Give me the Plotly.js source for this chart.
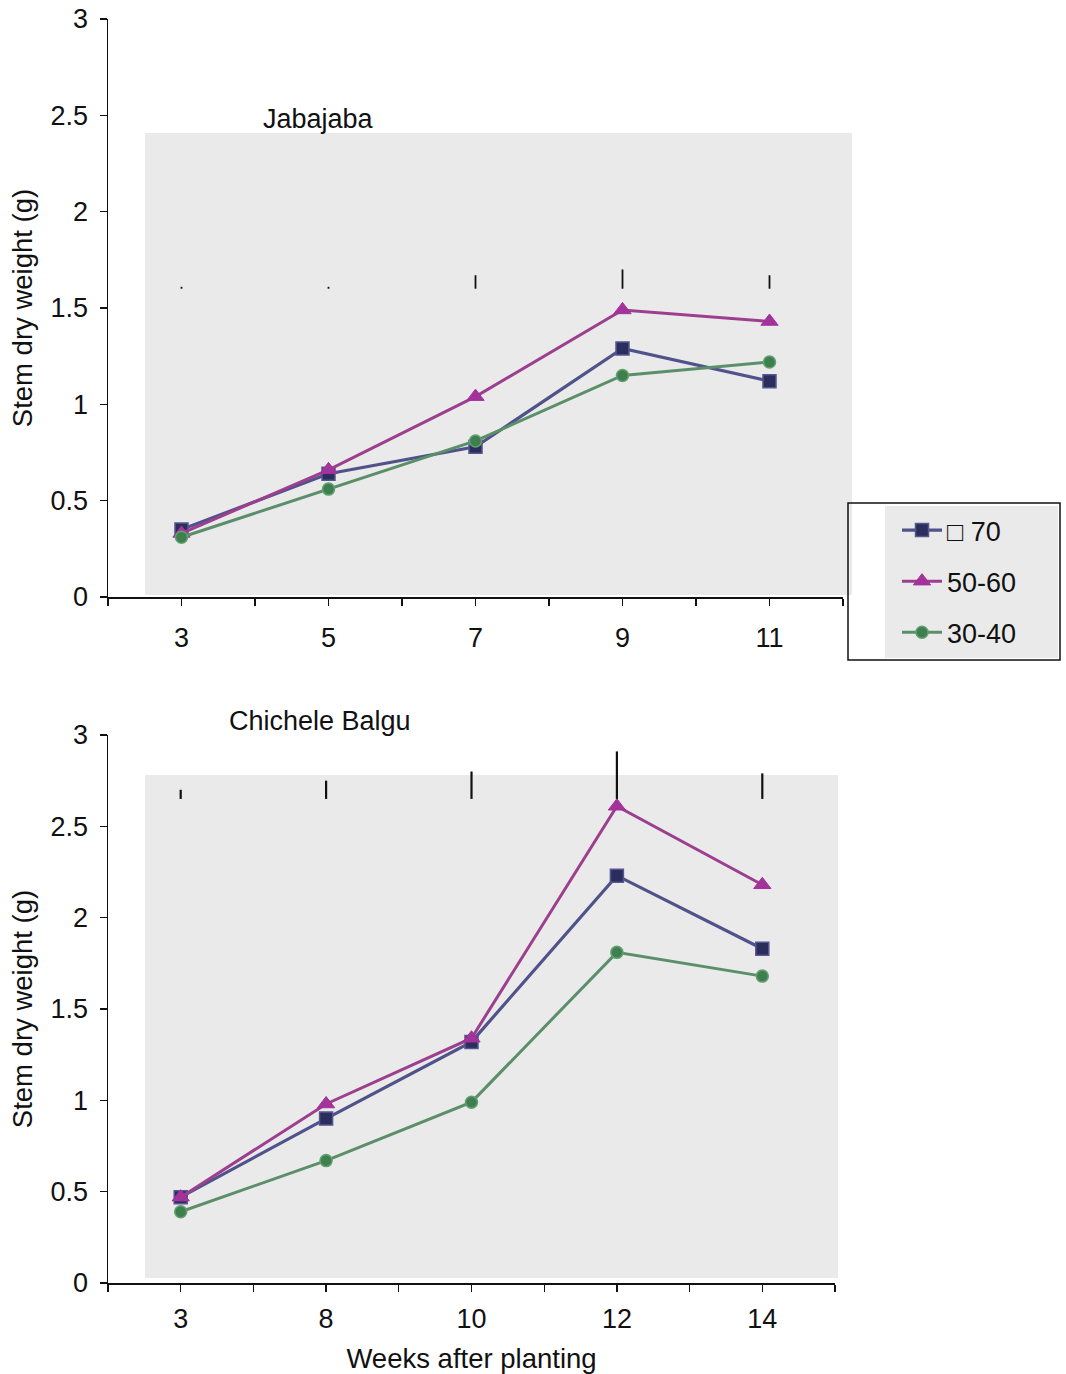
<!DOCTYPE html>
<html>
<head>
<meta charset="utf-8">
<script src="https://cdn.plot.ly/plotly-3.0.1.min.js"></script>
<style>html,body{margin:0;padding:0;background:#fff;}#chart{width:1066px;height:1374px;}</style>
</head>
<body>
<div id="chart"></div>
<script>
// ---- Data ----
const weeksJabajaba = ['3', '5', '7', '9', '11'];
const weeksChichele = ['3', '8', '10', '12', '14'];
const seriesNames = ['\u25A1 70', '50-60', '30-40'];

const jabajaba70 = [0.35, 0.64, 0.78, 1.29, 1.12];
const jabajaba5060 = [0.33, 0.66, 1.04, 1.49, 1.43];
const jabajaba3040 = [0.31, 0.56, 0.81, 1.15, 1.22];

const chichele70 = [0.47, 0.90, 1.32, 2.23, 1.83];
const chichele5060 = [0.47, 0.98, 1.34, 2.61, 2.18];
const chichele3040 = [0.39, 0.67, 0.99, 1.81, 1.68];

// LSD-style bars drawn upward from a base level
const jabajabaBarBase = [1.60, 1.60, 1.60, 1.60, 1.60];
const jabajabaBarLen = [0.01, 0.01, 0.07, 0.10, 0.07];
const chicheleBarBase = [2.65, 2.65, 2.65, 2.65, 2.65];
const chicheleBarLen = [0.05, 0.10, 0.15, 0.26, 0.14];

// ---- Styles ----
const styles = [
  {line: {color: '#50528a', width: 3.2}, marker: {symbol: 'square', size: 13, color: '#2b2d5c', line: {color: '#55578f', width: 1.5}}},
  {line: {color: '#9c3f8e', width: 3}, marker: {symbol: 'triangle-up', size: 15, color: '#a3329b', line: {color: '#a3329b', width: 1}}},
  {line: {color: '#5b8f69', width: 3}, marker: {symbol: 'circle', size: 12, color: '#3f7e4e', line: {color: '#62a070', width: 1.5}}}
];

const idxJ = weeksJabajaba.map((_, i) => i);
const idxC = weeksChichele.map((_, i) => i);

const traces = [];
[jabajaba70, jabajaba5060, jabajaba3040].forEach((vals, k) => {
  traces.push({x: idxJ, y: vals, xaxis: 'x', yaxis: 'y', type: 'scatter', mode: 'lines+markers',
    name: seriesNames[k], legendgroup: 'g' + k, line: styles[k].line, marker: styles[k].marker, showlegend: true});
});
[chichele70, chichele5060, chichele3040].forEach((vals, k) => {
  traces.push({x: idxC, y: vals, xaxis: 'x2', yaxis: 'y2', type: 'scatter', mode: 'lines+markers',
    name: seriesNames[k], legendgroup: 'g' + k, line: styles[k].line, marker: styles[k].marker, showlegend: false});
});
traces.push({x: idxJ, y: jabajabaBarBase, xaxis: 'x', yaxis: 'y', type: 'scatter', mode: 'markers',
  marker: {size: 1, color: 'rgba(0,0,0,0)'}, showlegend: false, hoverinfo: 'skip',
  error_y: {type: 'data', symmetric: false, array: jabajabaBarLen, arrayminus: jabajabaBarLen.map(() => 0), width: 0, thickness: 1.8, color: '#111'}});
traces.push({x: idxC, y: chicheleBarBase, xaxis: 'x2', yaxis: 'y2', type: 'scatter', mode: 'markers',
  marker: {size: 1, color: 'rgba(0,0,0,0)'}, showlegend: false, hoverinfo: 'skip',
  error_y: {type: 'data', symmetric: false, array: chicheleBarLen, arrayminus: chicheleBarLen.map(() => 0), width: 0, thickness: 2.2, color: '#111'}});

const FONT = 'Liberation Sans, Arial, sans-serif';
const FS = 27;
const W = 1066, H = 1374;
const px = v => v / W;
const py = v => 1 - v / H;

function xAxis(domain, weeks, anchor, standoff) {
  return {
    domain: domain, anchor: anchor, range: [-0.5, weeks.length - 0.5],
    tickvals: weeks.map((_, i) => i), ticktext: weeks,
    ticks: 'outside', ticklen: 7, tickwidth: 1.3, tickcolor: '#111',
    minor: {dtick: 0.5, tick0: -0.5, ticks: 'outside', ticklen: 7, tickwidth: 1.3, tickcolor: '#111'},
    showline: true, linecolor: '#111', linewidth: 1.5, showgrid: false, zeroline: false,
    tickfont: {family: FONT, size: FS, color: '#111'}, ticklabelstandoff: standoff,
    automargin: false, fixedrange: true
  };
}
function yAxis(domain, anchor) {
  return {
    domain: domain, anchor: anchor, range: [0, 3], dtick: 0.5, tick0: 0,
    ticks: 'outside', ticklen: 7, tickwidth: 1.3, tickcolor: '#111',
    showline: true, linecolor: '#111', linewidth: 1.5, showgrid: false, zeroline: false,
    tickfont: {family: FONT, size: FS, color: '#111'}, ticklabelstandoff: 6,
    title: {text: 'Stem dry weight (g)', font: {family: FONT, size: 27.5, color: '#111'}, standoff: 10},
    automargin: false, fixedrange: true
  };
}

const layout = {
  width: W, height: H,
  margin: {l: 0, r: 0, t: 0, b: 0},
  paper_bgcolor: '#ffffff', plot_bgcolor: 'rgba(0,0,0,0)',
  showlegend: true,
  xaxis: xAxis([px(108), px(843)], weeksJabajaba, 'y', 9),
  yaxis: yAxis([py(597), py(19)], 'x'),
  xaxis2: Object.assign(xAxis([px(108), px(835)], weeksChichele, 'y2', 4),
    {title: {text: 'Weeks after planting', font: {family: FONT, size: 27.5, color: '#111'}, standoff: 16}}),
  yaxis2: yAxis([py(1283), py(735)], 'x2'),
  legend: {
    x: px(897), y: py(506), xanchor: 'left', yanchor: 'top',
    bgcolor: 'rgba(0,0,0,0)', borderwidth: 0,
    font: {family: FONT, size: FS, color: '#111'},
    tracegroupgap: 13, itemwidth: 40
  },
  shapes: [
    {type: 'rect', xref: 'paper', yref: 'paper', x0: px(145), x1: px(852), y0: py(595), y1: py(133),
      fillcolor: '#eaeaea', line: {width: 0}, layer: 'below'},
    {type: 'rect', xref: 'paper', yref: 'paper', x0: px(145), x1: px(838), y0: py(1278), y1: py(775),
      fillcolor: '#eaeaea', line: {width: 0}, layer: 'below'},
    {type: 'rect', xref: 'paper', yref: 'paper', x0: px(885), x1: px(1058), y0: py(658), y1: py(506),
      fillcolor: '#eaeaea', line: {width: 0}, layer: 'below'},
    {type: 'rect', xref: 'paper', yref: 'paper', x0: px(848), x1: px(1060), y0: py(660), y1: py(503),
      fillcolor: 'rgba(0,0,0,0)', line: {width: 1.5, color: '#111'}, layer: 'above'}
  ],
  annotations: [
    {text: 'Jabajaba', xref: 'paper', yref: 'paper', x: px(261), y: py(119), xanchor: 'left', yanchor: 'middle',
      showarrow: false, font: {family: FONT, size: FS, color: '#111'}},
    {text: 'Chichele Balgu', xref: 'paper', yref: 'paper', x: px(227), y: py(721), xanchor: 'left', yanchor: 'middle',
      showarrow: false, font: {family: FONT, size: FS, color: '#111'}}
  ]
};

Plotly.newPlot('chart', traces, layout, {staticPlot: true, displayModeBar: false});
</script>
</body>
</html>
